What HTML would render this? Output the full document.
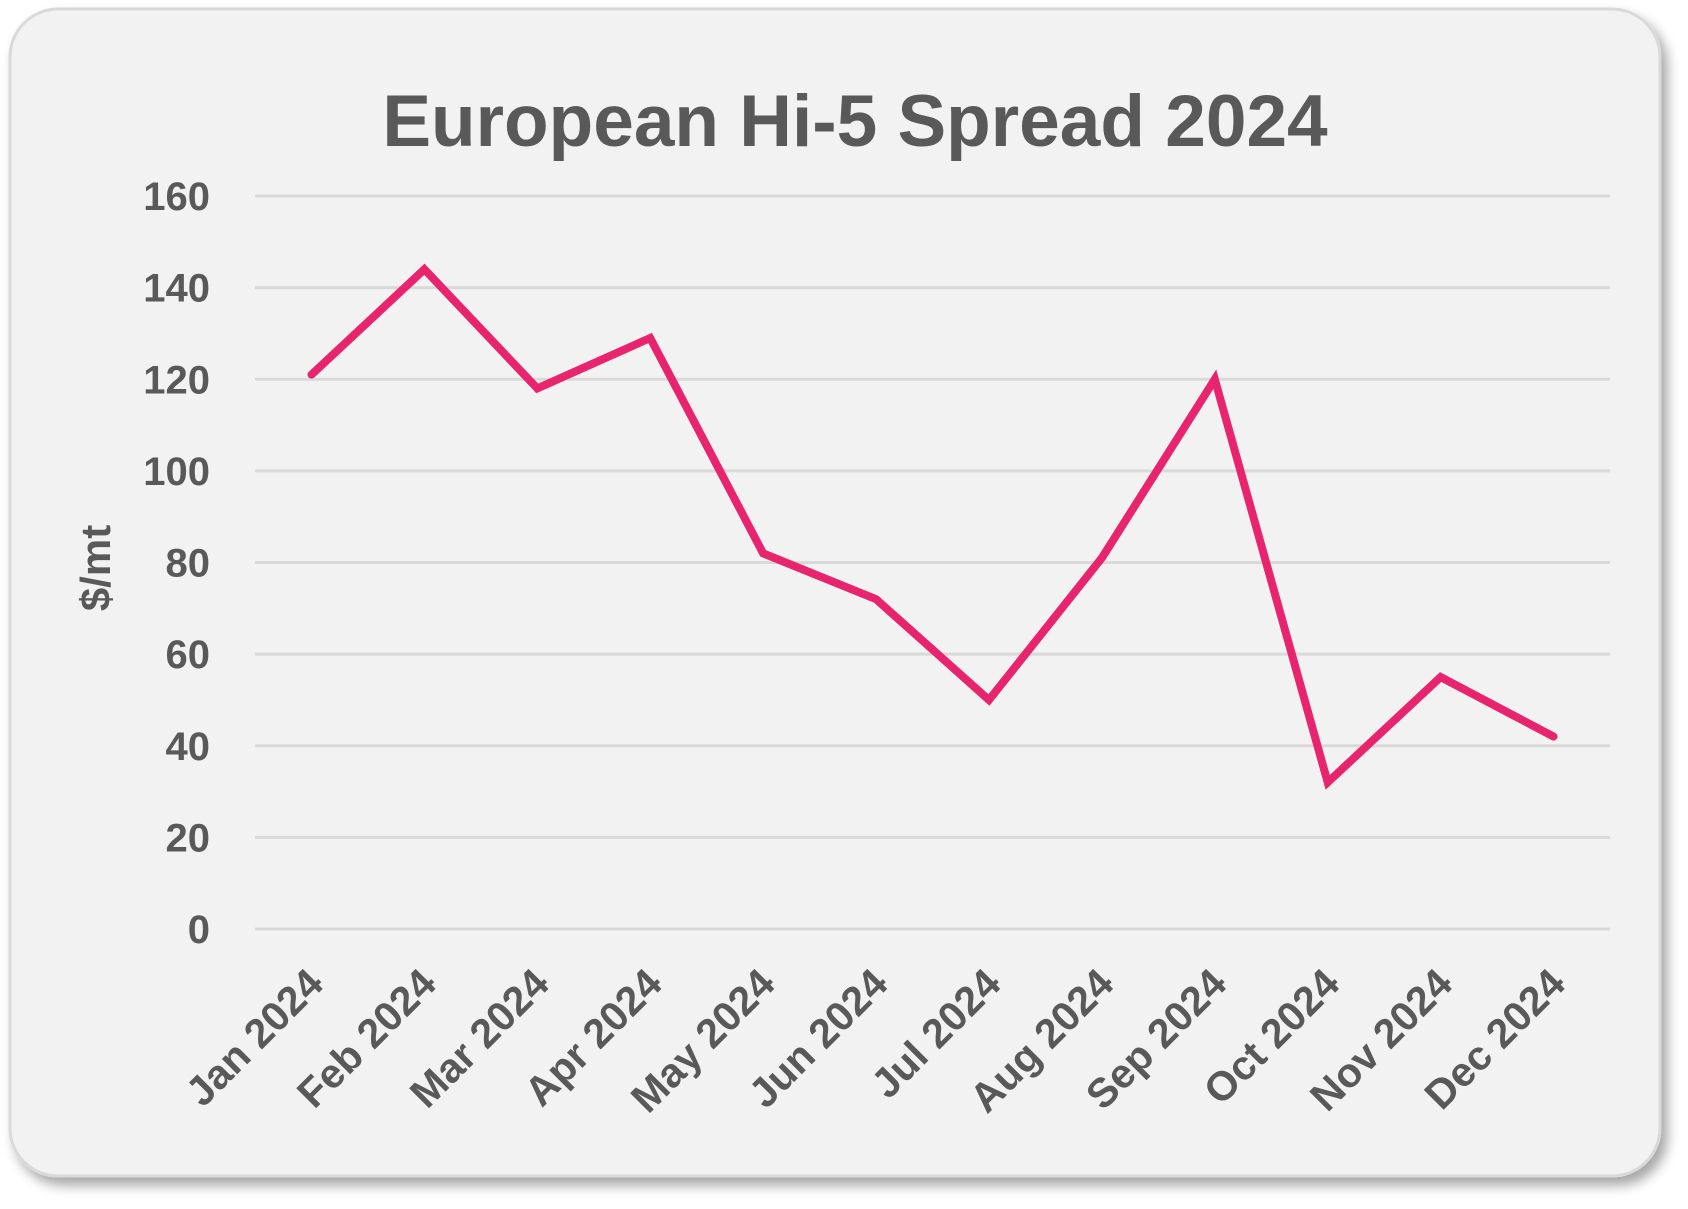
<!DOCTYPE html>
<html><head><meta charset="utf-8"><style>
body{margin:0;background:#fff;width:1688px;height:1204px;overflow:hidden;font-family:"Liberation Sans",sans-serif}
</style></head><body>
<svg width="1688" height="1204" viewBox="0 0 1688 1204">
<defs><filter id="sh" x="-5%" y="-5%" width="112%" height="115%"><feDropShadow dx="6" dy="8" stdDeviation="6" flood-color="#000" flood-opacity="0.35"/></filter></defs>
<rect x="10" y="9" width="1650" height="1167" rx="48" fill="#f2f2f2" stroke="#d9d9d9" stroke-width="3" filter="url(#sh)"/>
<text x="855" y="146" text-anchor="middle" font-size="73" font-weight="bold" fill="#595959">European Hi-5 Spread 2024</text>
<text transform="translate(110,568) rotate(-90)" text-anchor="middle" font-size="42" font-weight="bold" fill="#595959">$/mt</text>
<g id="grid"></g><g id="ylab"></g><g id="xlab"></g><g id="series"></g>
</svg>
<script>
const categories=["Jan 2024","Feb 2024","Mar 2024","Apr 2024","May 2024","Jun 2024","Jul 2024","Aug 2024","Sep 2024","Oct 2024","Nov 2024","Dec 2024"];
const values=[121,144,118,129,82,72,50,81,120,32,55,42];
const yTicks=[0,20,40,60,80,100,120,140,160];
const NS="http://www.w3.org/2000/svg";
const L=255,R=1610,T=196,B=929,YMAX=160;
const y=v=>B-(v/YMAX)*(B-T);
const bw=(R-L)/categories.length;
const x=i=>L+bw*(i+0.5);
const grid=document.getElementById('grid'),ylab=document.getElementById('ylab'),xlab=document.getElementById('xlab'),ser=document.getElementById('series');
yTicks.forEach(t=>{
 const ln=document.createElementNS(NS,'line');
 ln.setAttribute('x1',L);ln.setAttribute('x2',R);ln.setAttribute('y1',y(t));ln.setAttribute('y2',y(t));
 ln.setAttribute('stroke','#d9d9d9');ln.setAttribute('stroke-width','3');
 
 
 grid.appendChild(ln);
 const tx=document.createElementNS(NS,'text');
 tx.setAttribute('x',210);tx.setAttribute('y',y(t)+14);tx.setAttribute('text-anchor','end');
 tx.setAttribute('font-size','40');tx.setAttribute('font-weight','bold');tx.setAttribute('fill','#595959');tx.textContent=t;
 
 
 ylab.appendChild(tx);
});
categories.forEach((c,i)=>{
 const tx=document.createElementNS(NS,'text');
 const cx=x(i)+14,cy=986;
 tx.setAttribute('transform','translate('+cx+','+cy+') rotate(-45)');
 tx.setAttribute('text-anchor','end');tx.setAttribute('font-size','41');tx.setAttribute('font-weight','bold');tx.setAttribute('fill','#595959');
 tx.textContent=c;
 
 
 xlab.appendChild(tx);
});
const pl=document.createElementNS(NS,'polyline');
pl.setAttribute('points',values.map((v,i)=>x(i)+','+y(v)).join(' '));
pl.setAttribute('fill','none');pl.setAttribute('stroke','#e8246e');pl.setAttribute('stroke-width','8');
pl.setAttribute('stroke-linejoin','miter');pl.setAttribute('stroke-linecap','round');


ser.appendChild(pl);
</script>
</body></html>
